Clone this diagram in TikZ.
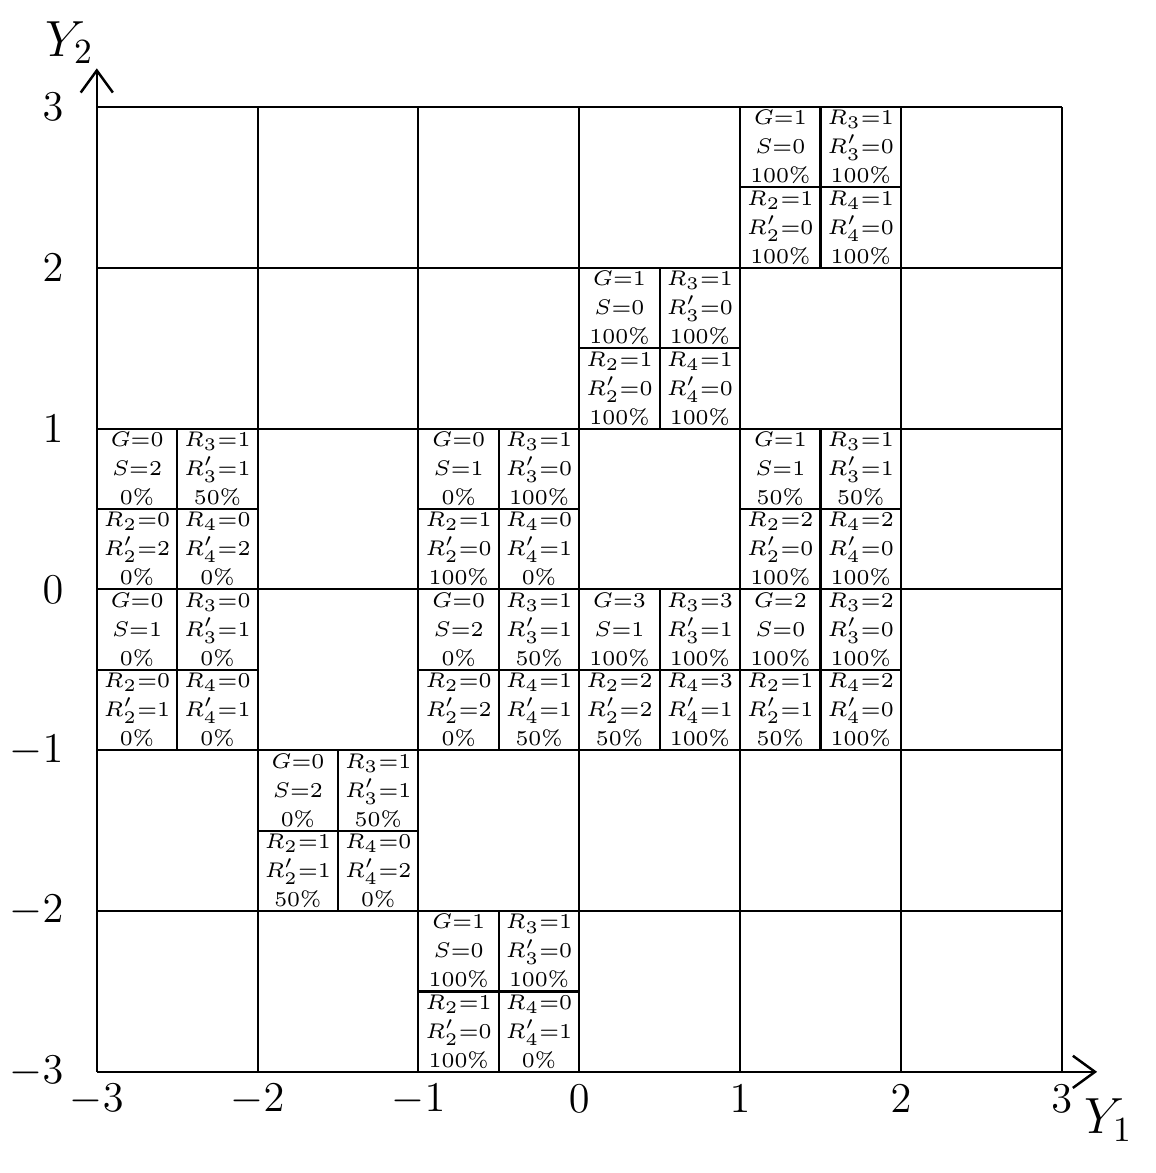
\documentclass[tikz,border=0pt]{standalone}
\usepackage{amsmath}
\usepackage{tikz}
\usetikzlibrary{arrows.meta}

\begin{document}
\begin{tikzpicture}[
  scale=1.6,
  gridline/.style={line width=0.6pt},
  axis/.style={line width=0.7pt, -{Straight Barb[length=2.2mm, width=3.2mm]}},
  entry/.style={align=center, inner sep=0pt, font=\fontsize{6.2}{8.2}\selectfont},
  ticklabel/.style={font=\large},
  axislabel/.style={font=\Large}
]
  \useasboundingbox (-3.602,-3.629) rectangle (3.584,3.665);

  % Grid
  \draw[gridline] (-3,-3) grid (3,3);

  % Axes
  \draw[axis] (-3,-3) -- (-3,3.24);
  \draw[axis] (-3,-3) -- (3.22,-3);
  \node[axislabel] (ytwo) at (-3.17,3.4) {$Y_2$};
  \node[axislabel] (yone) at (3.29,-3.3) {$Y_1$};

  % Tick labels
  \foreach \v in {-3,...,3} {
    \node[ticklabel] (xl\v) at (\v,-3.17) {$\v$};
    \node[ticklabel, anchor=east] (yl\v) at (-3.13,\v) {$\v$};
  }

  % Filled cells: corner / G,S / R3,R3' / R2,R2' / R4,R4'
  \foreach \cx/\cy/\gN/\sN/\pG/\rA/\rAp/\pA/\rB/\rBp/\pB/\rC/\rCp/\pC in {
      1/2/1/0/100/1/0/100/1/0/100/1/0/100,
      0/1/1/0/100/1/0/100/1/0/100/1/0/100,
      -3/0/0/2/0/1/1/50/0/2/0/0/2/0,
      -1/0/0/1/0/1/0/100/1/0/100/0/1/0,
      1/0/1/1/50/1/1/50/2/0/100/2/0/100,
      -3/-1/0/1/0/0/1/0/0/1/0/0/1/0,
      -1/-1/0/2/0/1/1/50/0/2/0/1/1/50,
      0/-1/3/1/100/3/1/100/2/2/50/3/1/100,
      1/-1/2/0/100/2/0/100/1/1/50/2/0/100,
      -2/-2/0/2/0/1/1/50/1/1/50/0/2/0,
      -1/-3/1/0/100/1/0/100/1/0/100/0/1/0} {
    \draw[gridline] (\cx+0.5,\cy) -- (\cx+0.5,\cy+1);
    \draw[gridline] (\cx,\cy+0.5) -- (\cx+1,\cy+0.5);
    \node[entry] (G\cx x\cy) at (\cx+0.25,\cy+0.75) {$G{=}\gN$\\$S{=}\sN$\\$\pG\%$};
    \node[entry] (R3\cx x\cy) at (\cx+0.75,\cy+0.75) {$R_3{=}\rA$\\$R'_3{=}\rAp$\\$\pA\%$};
    \node[entry] (R2\cx x\cy) at (\cx+0.25,\cy+0.25) {$R_2{=}\rB$\\$R'_2{=}\rBp$\\$\pB\%$};
    \node[entry] (R4\cx x\cy) at (\cx+0.75,\cy+0.25) {$R_4{=}\rC$\\$R'_4{=}\rCp$\\$\pC\%$};
  }
\end{tikzpicture}
\end{document}
